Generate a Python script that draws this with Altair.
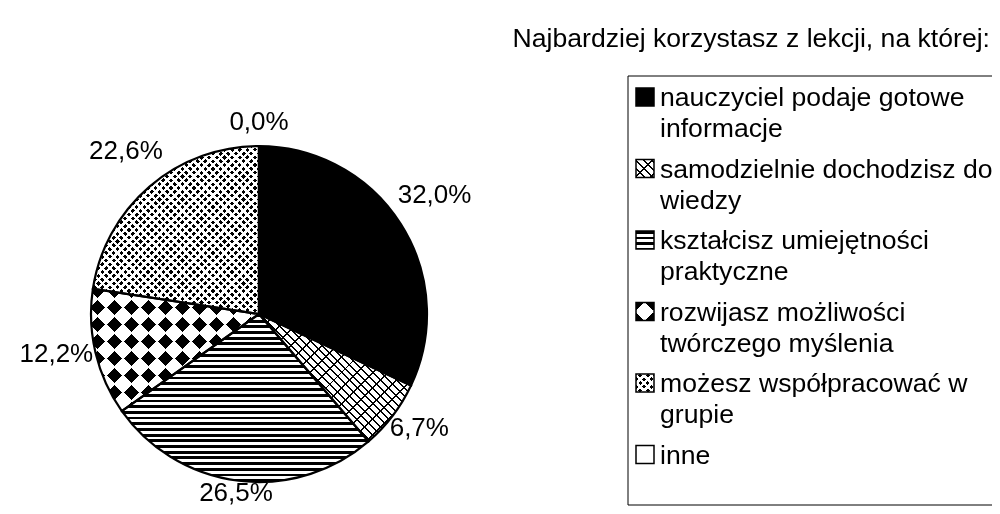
import math
import altair as alt
import pandas as pd

# ---------------- data ----------------
categories = [
    "nauczyciel podaje gotowe\ninformacje",
    "samodzielnie dochodzisz do\nwiedzy",
    "kształcisz umiejętności\npraktyczne",
    "rozwijasz możliwości\ntwórczego myślenia",
    "możesz współpracować w\ngrupie",
    "inne",
]
shares = [32.0, 6.7, 26.5, 12.2, 22.6, 0.0]
patterns = ["solid", "brick", "hlines", "diamonds", "dots", "none"]
title_text = "Najbardziej korzystasz z lekcji, na której:"

# ---------------- layout / style ----------------
W, H = 984, 498
CX, CY, R = 251, 306, 168
LABEL_R0 = 170
FONT = "Liberation Sans"
FS = 26.6
FS_LAB = 26
LEG_X0, LEG_Y0 = 620, 68
LEG_SYM_X, LEG_TEXT_X = 637, 652
LEG_FIRST, LEG_STEP = 89, 71.5
SYM = 18

BLACK, WHITE, CLEAR = "#000000", "#ffffff", "rgba(0,0,0,0)"


def stripes(w, h, angle, period, width, on, off=CLEAR, phase=0.0):
    """Hard-edged stripe pattern as an objectBoundingBox linear gradient."""
    th = math.radians(angle)
    nx, ny = math.cos(th), math.sin(th)
    proj = [(u * w * nx + v * h * ny, u, v) for u, v in [(0, 0), (1, 0), (0, 1), (1, 1)]]
    pmin, u0, v0 = min(proj)
    L = max(p[0] for p in proj) - pmin
    gx, gy = w * nx / L, h * ny / L
    g2 = gx * gx + gy * gy
    stops = [{"offset": 0, "color": off}]
    k = -2
    while True:
        a0 = k * period + phase
        if a0 >= L:
            break
        a1 = a0 + width
        if a1 > 0:
            s0 = round(max(a0, 0) / L, 5)
            s1 = round(min(a1, L) / L, 5)
            stops += [
                {"offset": s0, "color": off},
                {"offset": s0, "color": on},
                {"offset": s1, "color": on},
                {"offset": s1, "color": off},
            ]
        k += 1
    stops.append({"offset": 1, "color": off})
    return {
        "gradient": "linear",
        "x1": u0, "y1": v0,
        "x2": u0 + gx / g2, "y2": v0 + gy / g2,
        "stops": stops,
    }


def pattern_fills(kind, w, h, shift=0.0):
    if kind == "solid":
        return [(BLACK, None)]
    if kind == "brick":
        return [(stripes(w, h, -45, 5.6, 1.4, BLACK), None),
                (stripes(w, h, 45, 11.0, 1.4, BLACK), None)]
    if kind == "hlines":
        return [(stripes(w, h, 90, 5.7, 2.8, BLACK), None)]
    if kind == "diamonds":
        q, g = 12.0, 1.4
        return [(stripes(w, h, 45, 2 * q, q, BLACK, phase=shift), None),
                (stripes(w, h, -45, 2 * q, q, WHITE, phase=shift), "difference"),
                (stripes(w, h, 45, q, g, WHITE, phase=shift - g / 2), None),
                (stripes(w, h, -45, q, g, WHITE, phase=shift - g / 2), None)]
    if kind == "dots":
        p, d = 5.4, 3.0
        return [(BLACK, None),
                (stripes(w, h, 45, p, p - d, WHITE), None),
                (stripes(w, h, -45, p, p - d, WHITE), None)]
    return []


def arc_bbox(f0, f1, r):
    a0, a1 = f0 * 2 * math.pi, f1 * 2 * math.pi
    angs = [a0, a1] + [k * math.pi / 2 for k in range(5) if a0 < k * math.pi / 2 < a1]
    xs = [0.0] + [r * math.sin(a) for a in angs]
    ys = [0.0] + [-r * math.cos(a) for a in angs]
    return max(max(xs) - min(xs), 1.0), max(max(ys) - min(ys), 1.0)


df = pd.DataFrame({"cat": categories, "share": shares, "idx": list(range(len(shares)))})
df["label"] = [f"{v:.1f}".replace(".", ",") + "%" for v in shares]

base = alt.Chart(df).transform_window(
    cum="sum(share)", sort=[alt.SortField("idx")], frame=[None, 0]
).transform_calculate(
    start="datum.cum - datum.share", mid="datum.cum - datum.share / 2"
)

theta_scale = alt.Scale(domain=[0, 100], range=[0, 2 * math.pi])
leg_scale = alt.Scale(type="point", domain=categories,
                      range=[LEG_FIRST, LEG_FIRST + 5 * LEG_STEP], padding=0)


def arc_enc(ch):
    return ch.encode(
        theta=alt.Theta("start:Q", scale=theta_scale, stack=False),
        theta2="cum:Q",
        x=alt.value(CX), y=alt.value(CY),
    )


layers = []

# legend frame
layers.append(
    alt.Chart(pd.DataFrame({"k": [0]})).mark_rect(fill=WHITE, stroke=BLACK, strokeWidth=1).encode(
        x=alt.value(LEG_X0), x2=alt.value(W + 20), y=alt.value(LEG_Y0), y2=alt.value(H - 1)
    )
)

# pie white base
layers.append(arc_enc(base.mark_arc(outerRadius=R, fill=WHITE)))

# pattern layers for slices and legend symbols
cum = 0.0
for i, (s, kind) in enumerate(zip(shares, patterns)):
    bw, bh = arc_bbox(cum / 100, (cum + s) / 100, R)
    cum += s
    if s > 0:
        for fill, blend in pattern_fills(kind, bw, bh):
            kw = {"fill": fill}
            if blend:
                kw["blend"] = blend
            layers.append(arc_enc(base.transform_filter(alt.datum.idx == i).mark_arc(outerRadius=R, **kw)))
    for fill, blend in pattern_fills(kind, SYM, SYM, shift=6.7):
        kw = {"fill": fill}
        if blend:
            kw["blend"] = blend
        layers.append(
            base.transform_filter(alt.datum.idx == i).mark_square(size=SYM * SYM, opacity=1, **kw).encode(
                x=alt.value(LEG_SYM_X), y=alt.Y("cat:N", scale=leg_scale, axis=None)
            )
        )

# outlines
layers.append(arc_enc(base.mark_arc(outerRadius=R, fill=WHITE, fillOpacity=0, stroke=BLACK, strokeWidth=2.2)))
layers.append(
    base.mark_square(size=SYM * SYM, fill=WHITE, fillOpacity=0, stroke=BLACK, strokeWidth=1.5).encode(
        x=alt.value(LEG_SYM_X), y=alt.Y("cat:N", scale=leg_scale, axis=None)
    )
)

# slice labels: placed outside, box-aware radius
layers.append(
    base.transform_calculate(
        ang="2 * PI * datum.mid / 100",
        hw="length(datum.label) * 7.2",
    ).transform_calculate(
        lr=f"{LABEL_R0} + datum.hw * abs(sin(datum.ang)) + 14 * abs(cos(datum.ang))"
    ).mark_text(font=FONT, fontSize=FS_LAB, align="center", baseline="middle", dy=-8, color=BLACK).encode(
        x=alt.value(CX), y=alt.value(CY),
        theta=alt.Theta("mid:Q", scale=theta_scale, stack=False),
        radius=alt.Radius("lr:Q", scale=None),
        text="label:N",
    )
)

# legend texts
layers.append(
    base.mark_text(font=FONT, fontSize=FS, align="left", baseline="alphabetic", dy=9,
                   lineBreak="\n", lineHeight=31, color=BLACK).encode(
        x=alt.value(LEG_TEXT_X), y=alt.Y("cat:N", scale=leg_scale, axis=None), text="cat:N"
    )
)

# title
layers.append(
    alt.Chart(pd.DataFrame({"t": [title_text]})).mark_text(
        font=FONT, fontSize=FS, align="right", baseline="alphabetic", color=BLACK
    ).encode(x=alt.value(982), y=alt.value(39), text="t:N")
)

chart = alt.layer(*layers).properties(
    width=W, height=H, padding=0, background="white",
    autosize=alt.AutoSizeParams(type="none"),
).configure_view(strokeWidth=0)

chart.save("out.html", embed_options={"renderer": "svg", "actions": False})
